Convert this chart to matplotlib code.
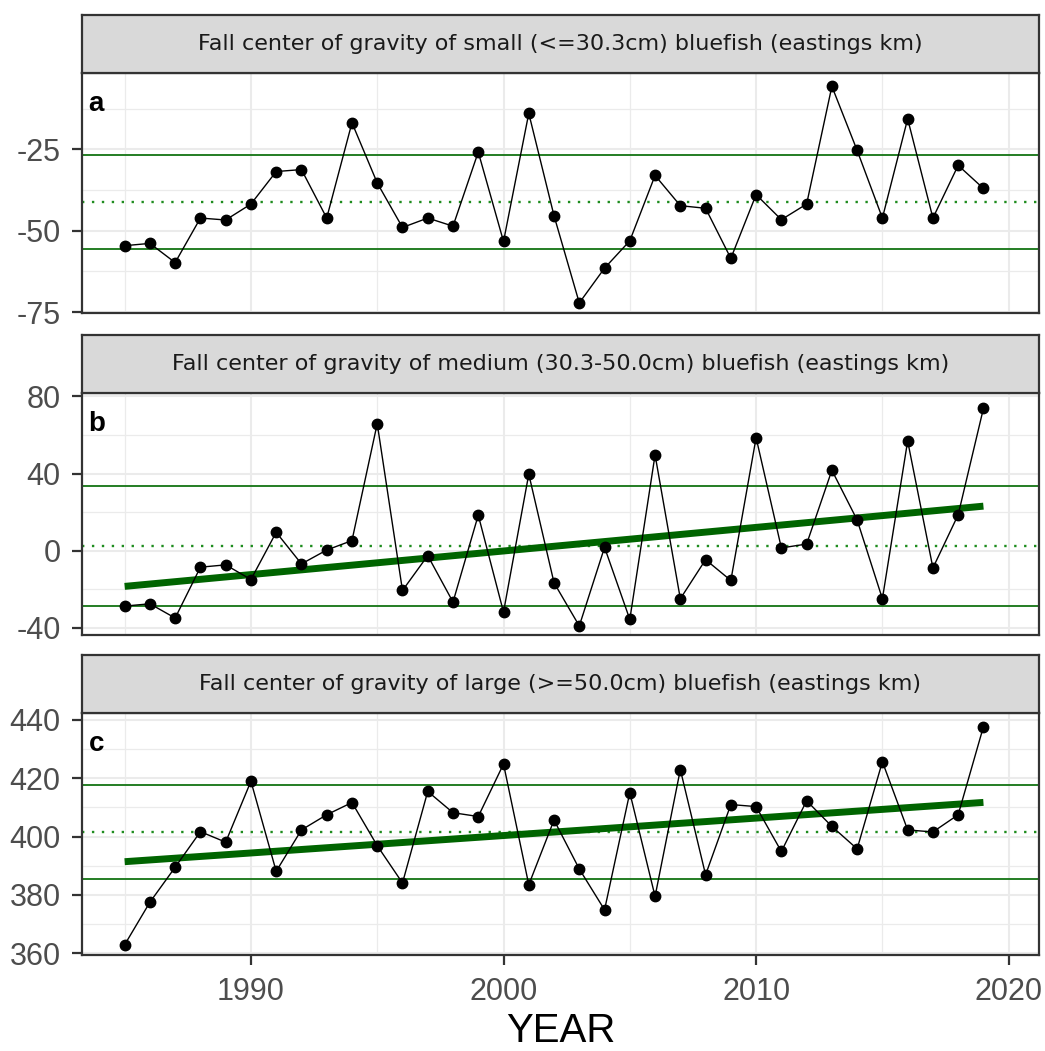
import numpy as np
import matplotlib.pyplot as plt

plt.rcParams['font.family'] = ['Liberation Sans', 'DejaVu Sans']
plt.rcParams['axes.unicode_minus'] = False

# ------------------------
# Data
# ------------------------
years = np.arange(1985, 2020)

small_cog = [-54.6, -53.9, -59.8, -46.1, -46.7, -41.8, -31.8, -31.2, -46.1, -16.8,
             -35.3, -49.0, -46.1, -48.6, -25.8, -53.3, -13.9, -45.4, -72.2, -61.5,
             -53.1, -33.0, -42.3, -43.1, -58.5, -38.9, -46.6, -41.8, -5.6, -25.3,
             -46.1, -15.6, -46.1, -29.9, -37.0]

medium_cog = [-28.8, -27.6, -35.0, -8.6, -7.4, -15.0, 9.5, -6.9, 0.3, 5.2,
              65.9, -20.7, -2.6, -26.7, 18.4, -31.9, 39.7, -16.7, -39.1, 1.7,
              -35.7, 49.7, -25.0, -4.7, -15.5, 58.6, 1.4, 3.4, 41.7, 15.9,
              -25.0, 56.9, -9.0, 18.6, 73.8]

large_cog = [362.9, 377.5, 389.5, 401.7, 398.1, 419.0, 388.1, 402.3, 407.5, 411.7,
             396.9, 384.1, 415.5, 408.2, 406.9, 424.9, 383.5, 405.7, 388.9, 374.9,
             415.1, 379.5, 423.0, 386.9, 411.0, 410.3, 394.9, 412.3, 403.5, 395.8,
             425.7, 402.3, 401.6, 407.5, 437.7]

titles = ["Fall center of gravity of small (<=30.3cm) bluefish (eastings km)",
          "Fall center of gravity of medium (30.3-50.0cm) bluefish (eastings km)",
          "Fall center of gravity of large (>=50.0cm) bluefish (eastings km)"]
panel_tags = ["a", "b", "c"]
show_trend = [False, True, True]

y_major = [[-75, -50, -25], [-40, 0, 40, 80], [360, 380, 400, 420, 440]]
y_minor = [[-62.5, -37.5, -12.5], [-20, 20, 60], [370, 390, 410, 430]]
y_lims = [(-75.3, -1.5), (-43.8, 81.8), (359.4, 442.4)]

x_major = [1990, 2000, 2010, 2020]
x_minor = [1985, 1995, 2005, 2015]
x_lim = (1983.3, 2021.2)

# ------------------------
# Layout (figure fractions)
# ------------------------
W, H = 1045, 1051
left = 81.7 / W
width = (1039 - 81.7) / W
panel_px = [(73, 313), (393, 635), (713, 955)]
strip_h = 58

fig = plt.figure(figsize=(W / 100, H / 100), dpi=100)

series = [small_cog, medium_cog, large_cog]
dark_green = "#006400"
ref_green = "#137313"
border = "#333333"

for i, vals in enumerate(series):
    vals = np.array(vals)
    top, bot = panel_px[i]
    ax = fig.add_axes([left, 1 - bot / H, width, (bot - top) / H])
    sx = fig.add_axes([left, 1 - top / H, width, strip_h / H])

    # strip
    sx.set_facecolor("#D9D9D9")
    sx.set_xticks([])
    sx.set_yticks([])
    for s in sx.spines.values():
        s.set_color(border)
        s.set_linewidth(1.6)
    sx.text(0.5, 0.5, titles[i], ha="center", va="center", fontsize=16,
            color="#1A1A1A", family="DejaVu Sans", transform=sx.transAxes)

    # grid
    ax.set_xlim(*x_lim)
    ax.set_ylim(*y_lims[i])
    ax.set_xticks(x_major)
    ax.set_xticks(x_minor, minor=True)
    ax.set_yticks(y_major[i])
    ax.set_yticks(y_minor[i], minor=True)
    ax.grid(which="major", color="#EBEBEB", linewidth=1.5)
    ax.grid(which="minor", color="#EBEBEB", linewidth=0.9)
    ax.set_axisbelow(True)

    # reference lines: mean and +/- 1 sd
    m = vals.mean()
    sd = vals.std(ddof=1)
    ax.axhline(m + sd, color=ref_green, lw=1.3, zorder=2)
    ax.axhline(m - sd, color=ref_green, lw=1.3, zorder=2)
    ax.axhline(m, color="#1E8C1E", lw=1.7, ls=(0, (1, 3.2)), zorder=2)

    # linear trend
    if show_trend[i]:
        coef = np.polyfit(years, vals, 1)
        ax.plot(years, np.polyval(coef, years), color=dark_green, lw=5,
                solid_capstyle="butt", zorder=3)

    ax.plot(years, vals, color="black", lw=1.0, marker="o", markersize=7.5,
            zorder=4)

    ax.text(7 / 957, 1 - 38 / 240, panel_tags[i], transform=ax.transAxes,
            fontsize=20, fontweight="bold", color="black", va="baseline")

    for s in ax.spines.values():
        s.set_color(border)
        s.set_linewidth(1.6)
    ax.tick_params(which="major", length=7.2, width=1.6, color=border,
                   labelsize=22, labelcolor="#4D4D4D")
    ax.tick_params(axis="y", which="major", pad=8)
    ax.tick_params(axis="x", which="major", pad=9)
    ax.tick_params(which="minor", length=0)
    if i < 2:
        ax.tick_params(axis="x", which="both", bottom=False, labelbottom=False)
    else:
        ax.set_xlabel("YEAR", fontsize=29, color="black", labelpad=3)

fig.savefig("out.png", dpi=100)
